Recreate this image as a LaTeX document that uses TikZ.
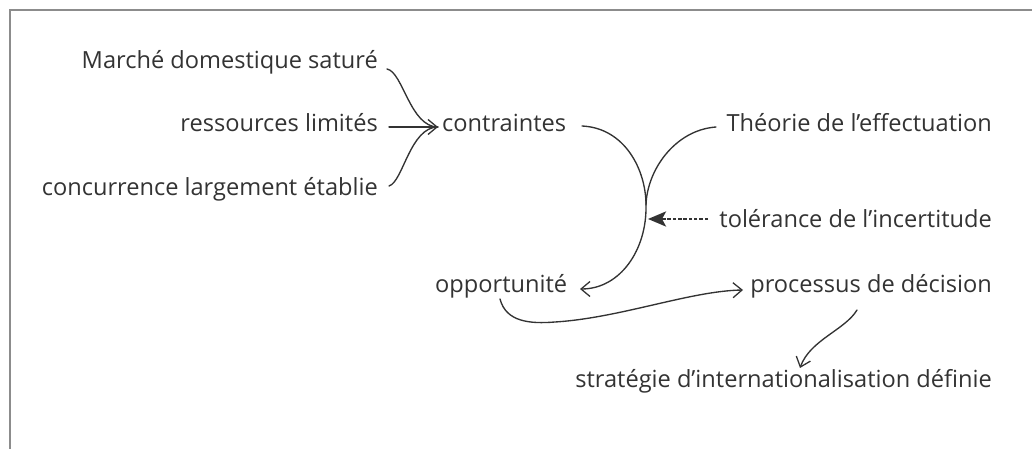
\documentclass[tikz,border=0pt]{standalone}
\usepackage{fontspec}
\setmainfont{Open Sans}
\usetikzlibrary{arrows.meta,calc}
\definecolor{ink}{HTML}{333333}
\definecolor{frame}{HTML}{8C8C8C}
\tikzset{
  lbl/.style={inner sep=0pt, text=ink, font=\fontsize{23.6bp}{28bp}\selectfont},
  conn/.style={draw=ink, line width=1.35bp, line cap=round},
  barb/.style={-{Straight Barb[length=9bp,width=15bp,line width=1.3bp]}},
  dashedarrow/.style={draw=ink, line width=2.6bp, dash pattern=on 3.5bp off 1.8bp,
    -{Stealth[length=18bp,width=15bp,inset=4bp]}}
}
\begin{document}
\begin{tikzpicture}[x=1bp,y=-1bp]
\useasboundingbox (0,0) rectangle (1032,449);
% frame
\draw[frame, line width=2bp] (10,449) -- (10,10.5) -- (1032,10.5);

% labels
\node[lbl, anchor=base east] (marche) at (378,69) {Marché domestique saturé};
\node[lbl, anchor=base east] (ress) at (378,132) {ressources limités};
\node[lbl, anchor=base east] (conc) at (378,196) {concurrence largement établie};
\node[lbl, anchor=base west] (contr) at (442,132) {contraintes};
\node[lbl, anchor=base east] (theo) at (992,132) {Théorie de l’effectuation};
\node[lbl, anchor=base east] (tol) at (992,228) {tolérance de l’incertitude};
\node[lbl, anchor=base west] (opp) at (435,293) {opportunité};
\node[lbl, anchor=base east] (proc) at (992,293) {processus de décision};
\node[lbl, anchor=base east] (strat) at (992,388) {stratégie d’internationalisation définie};

% connection points
\coordinate (sM) at (387,69);
\coordinate (sR) at (389,127);
\coordinate (sC) at (389,186);
\coordinate (tipC) at (438,127);
\coordinate (sK) at (582,126);
\coordinate (join) at (646,205);
\coordinate (tipO) at (580,289);
\coordinate (sT) at (716,127);
\coordinate (sTol) at (708,219);
\coordinate (tipT) at (648,219);
\coordinate (sO) at (500,299);
\coordinate (tipP) at (743,290);
\coordinate (sP) at (857,310);
\coordinate (tipS) at (800,368);

% three inputs into contraintes
\draw[conn] (sM) .. controls (403,72) and (410,127) .. (tipC);
\draw[conn] (sC) .. controls (403,182) and (410,127) .. (tipC);
\draw[conn, barb] (sR) -- (tipC);

% contraintes -> opportunite
\draw[conn, barb] (sK) .. controls (625,128) and (646,170) .. (join)
   .. controls (647,250) and (620,289) .. (tipO);
% theorie joins
\draw[conn] (sT) .. controls (675,130) and (647,170) .. (join);
% tolerance dashed arrow
\draw[dashedarrow] (sTol) -- (tipT);
% opportunite -> processus
\draw[conn, barb] (sO) .. controls (506,322) and (530,324) .. (555,322)
   .. controls (620,318) and (690,291) .. (tipP);
% processus -> strategie
\draw[conn, barb] (sP) .. controls (845,330) and (810,340) .. (tipS);
\end{tikzpicture}
\end{document}
